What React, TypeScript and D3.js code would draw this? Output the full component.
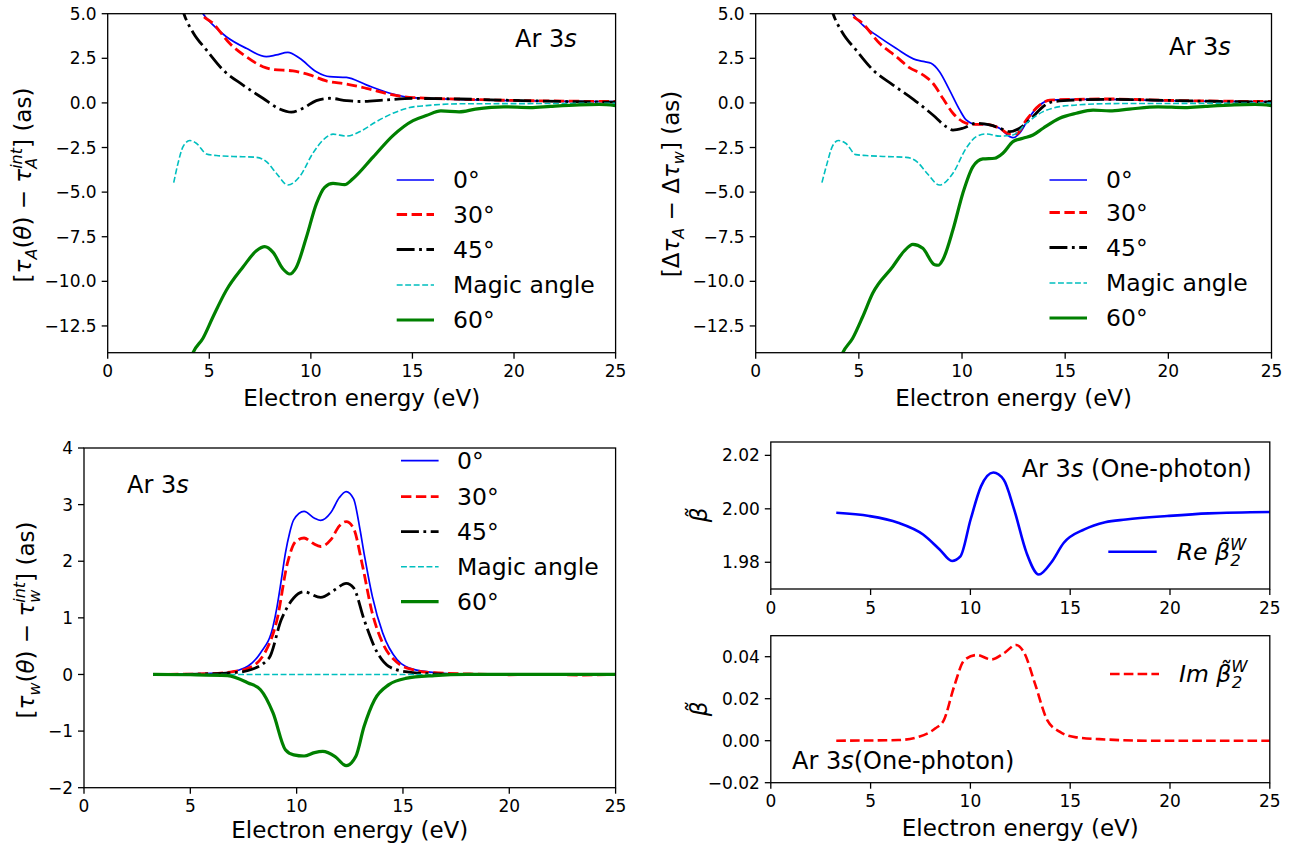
import React from "react";
import * as d3 from "d3";

type Pt = [number, number];

// ---------- tick values ----------
const xTicks = [0, 5, 10, 15, 20, 25];
const tauATicks = [5.0, 2.5, 0.0, -2.5, -5.0, -7.5, -10.0, -12.5];
const tauWTicks = [4, 3, 2, 1, 0, -1, -2];
const reTicks = [1.98, 2.0, 2.02];
const imTicks = [-0.02, 0.0, 0.02, 0.04];
const angleLabels = ["0°", "30°", "45°", "Magic angle", "60°"];

// ---------- panel (a): tau_A(theta) - tau_A^int ----------
const tauA0: Pt[] = [[3.25, 10], [4.0, 6.6], [4.69, 5.0], [5.18, 4.37], [5.84, 3.71], [6.82, 3.06], [7.81, 2.59], [8.3, 2.69], [8.87, 2.83], [9.45, 2.5], [10.27, 1.75], [10.93, 1.47], [11.75, 1.43], [12.73, 1.01], [14.04, 0.5], [14.86, 0.31], [15.68, 0.26], [17.3, 0.2], [20, 0.12], [22.5, 0.09], [25, 0.07]];
const tauA30: Pt[] = [[3.25, 9.5], [4.0, 6.5], [4.61, 5.0], [5.18, 4.46], [6.0, 3.34], [6.82, 2.59], [7.64, 2.03], [8.13, 1.88], [9.12, 1.79], [9.94, 1.57], [10.76, 1.23], [11.75, 1.06], [12.73, 0.82], [14.04, 0.45], [15.03, 0.3], [17.3, 0.21], [20, 0.14], [22.5, 0.1], [25, 0.08]];
const tauA45: Pt[] = [[3.25, 7.2], [3.75, 5.0], [4.2, 3.95], [4.86, 2.97], [5.68, 1.85], [6.66, 1.0], [7.64, 0.26], [8.46, -0.34], [9.04, -0.52], [9.61, -0.3], [10.27, 0.13], [10.93, 0.26], [11.75, 0.13], [12.4, 0.08], [13.7, 0.17], [15.03, 0.25], [17.3, 0.22], [20, 0.14], [22.5, 0.08], [25, 0.04]];
const tauAMagic: Pt[] = [[3.25, -4.47], [3.46, -3.39], [3.71, -2.45], [4.04, -2.11], [4.36, -2.26], [4.86, -2.86], [5.35, -2.95], [6.17, -3.0], [7.32, -3.05], [7.81, -3.29], [8.3, -3.94], [8.87, -4.6], [9.45, -4.13], [10.1, -2.82], [10.6, -2.08], [11.09, -1.75], [11.75, -1.86], [12.4, -1.62], [13.22, -1.05], [14.04, -0.58], [14.86, -0.26], [15.68, -0.15], [17.3, -0.05], [20, -0.04], [25, -0.02]];
const tauA60: Pt[] = [[3.25, -17.5], [3.9, -15], [4.2, -14.0], [4.69, -13.19], [5.18, -12.0], [5.84, -10.5], [6.66, -9.2], [7.32, -8.29], [7.73, -8.06], [8.14, -8.38], [8.63, -9.31], [8.96, -9.59], [9.28, -9.22], [9.78, -7.53], [10.27, -5.66], [10.68, -4.73], [11.09, -4.51], [11.66, -4.58], [12.07, -4.25], [13.06, -3.04], [14.04, -1.83], [15.03, -0.99], [15.68, -0.71], [16.4, -0.45], [17.3, -0.5], [18.1, -0.35], [19.5, -0.22], [20.8, -0.26], [21.8, -0.19], [23.2, -0.11], [24.2, -0.09], [25, -0.15]];

// ---------- panel (b): delta tau_A - delta tau_w ----------
const dTau0: Pt[] = [[3.25, 10], [4.0, 6.6], [4.7, 5.0], [5.18, 4.37], [5.83, 3.81], [6.8, 3.06], [7.78, 2.41], [8.18, 2.31], [8.5, 2.22], [8.91, 1.75], [9.39, 0.73], [9.88, -0.38], [10.2, -0.95], [10.69, -1.2], [11.17, -1.2], [11.82, -1.42], [12.31, -1.89], [12.47, -1.95], [12.79, -1.7], [13.28, -0.77], [13.76, -0.13], [14.25, 0.16], [15.54, 0.2], [17.16, 0.2], [20, 0.12], [22.5, 0.09], [25, 0.06]];
const dTau30: Pt[] = [[3.25, 9.5], [4.0, 6.5], [4.62, 5.0], [5.18, 4.46], [6.0, 3.34], [6.82, 2.59], [7.45, 1.98], [8.0, 1.65], [8.26, 1.45], [8.59, 1.1], [9.07, 0.26], [9.56, -0.58], [10.04, -1.05], [10.53, -1.2], [11.17, -1.2], [11.82, -1.42], [12.31, -1.74], [12.63, -1.74], [13.12, -0.95], [13.76, -0.13], [14.25, 0.16], [15.54, 0.2], [17.16, 0.22], [20, 0.14], [22.5, 0.1], [25, 0.08]];
const dTau45: Pt[] = [[3.25, 7.2], [3.75, 5.0], [4.2, 3.95], [4.86, 2.97], [5.68, 1.85], [6.66, 1.0], [7.64, 0.2], [8.59, -0.68], [9.23, -1.33], [9.56, -1.52], [10.04, -1.42], [10.69, -1.14], [11.34, -1.23], [11.98, -1.48], [12.31, -1.61], [12.79, -1.42], [13.44, -0.77], [13.93, -0.21], [14.41, 0.07], [15.54, 0.16], [17.16, 0.2], [20, 0.14], [22.5, 0.08], [25, 0.05]];
const dTauMagic: Pt[] = [[3.21, -4.47], [3.46, -3.39], [3.71, -2.45], [4.0, -2.11], [4.36, -2.26], [4.86, -2.9], [5.35, -2.95], [6.17, -3.0], [7.29, -3.05], [7.81, -3.29], [8.3, -3.94], [8.91, -4.6], [9.56, -3.94], [10.2, -2.54], [10.69, -1.89], [11.17, -1.74], [11.82, -1.86], [12.47, -1.8], [13.12, -1.14], [13.93, -0.49], [14.73, -0.21], [15.54, -0.12], [17.16, -0.04], [20, -0.03], [25, -0.01]];
const dTau60: Pt[] = [[3.25, -17.5], [3.9, -15], [4.22, -14.0], [4.7, -13.19], [5.18, -12.0], [5.67, -10.67], [6.64, -9.18], [7.2, -8.3], [7.62, -7.93], [8.1, -8.15], [8.67, -9.07], [8.85, -9.1], [9.07, -8.79], [9.56, -7.11], [10.04, -5.06], [10.53, -3.57], [11.01, -3.14], [11.58, -3.1], [11.98, -2.82], [12.47, -2.17], [12.95, -1.98], [13.44, -1.8], [13.93, -1.42], [14.73, -0.86], [15.54, -0.58], [16.35, -0.4], [17.16, -0.45], [18.1, -0.35], [19.5, -0.22], [20.8, -0.26], [21.8, -0.19], [23.2, -0.11], [24.2, -0.09], [25, -0.15]];

// ---------- panel (c): tau_w(theta) - tau_w^int ----------
const tauW0: Pt[] = [[3.25, 0], [5, 0.01], [6, 0.02], [6.75, 0.035], [7.3, 0.08], [7.72, 0.15], [8.3, 0.38], [8.89, 0.85], [9.08, 1.2], [9.28, 1.67], [9.47, 2.14], [9.67, 2.5], [9.86, 2.73], [10.35, 2.88], [10.84, 2.76], [11.13, 2.72], [11.61, 2.86], [12.0, 3.12], [12.33, 3.23], [12.68, 3.1], [12.98, 2.56], [13.17, 2.14], [13.37, 1.73], [13.56, 1.38], [14.05, 0.73], [14.73, 0.26], [15.5, 0.09], [16.48, 0.035], [17.45, 0.01], [20, 0], [25, 0]];
const tauW30: Pt[] = [[3.25, 0], [6, 0.015], [7, 0.05], [7.72, 0.11], [8.5, 0.38], [9.08, 0.97], [9.57, 1.97], [9.96, 2.35], [10.35, 2.41], [10.75, 2.32], [11.13, 2.26], [11.61, 2.38], [12.0, 2.62], [12.33, 2.7], [12.68, 2.58], [13.07, 1.97], [13.56, 1.08], [14.05, 0.55], [14.73, 0.21], [15.5, 0.08], [16.48, 0.03], [18, 0.01], [20, -0.005], [22, 0], [23.5, -0.01], [25, 0]];
const tauW45: Pt[] = [[3.25, 0], [6, 0.01], [7, 0.03], [7.72, 0.07], [8.7, 0.29], [9.28, 0.97], [9.86, 1.35], [10.35, 1.46], [11.13, 1.36], [11.81, 1.5], [12.33, 1.61], [12.68, 1.53], [13.17, 0.97], [13.76, 0.41], [14.34, 0.14], [15.12, 0.05], [16.48, 0.01], [18, 0], [25, 0]];
const tauWMagic: Pt[] = [[3.25, 0], [25, 0]];
const tauW60: Pt[] = [[3.25, 0], [5, -0.005], [6.75, -0.02], [7.72, -0.15], [8.3, -0.27], [8.89, -0.68], [9.47, -1.33], [9.86, -1.42], [10.35, -1.44], [10.84, -1.38], [11.23, -1.36], [11.81, -1.45], [12.33, -1.61], [12.78, -1.45], [13.17, -0.92], [13.66, -0.45], [14.34, -0.18], [15.12, -0.07], [16.48, -0.02], [18, 0], [25, 0]];

// ---------- panel (d): one-photon beta2 ----------
const reBeta: Pt[] = [[3.28, 1.9985], [4.93, 1.9973], [6.38, 1.9948], [7.63, 1.9904], [8.46, 1.9848], [9.08, 1.9805], [9.5, 1.9822], [10.01, 1.996], [10.53, 2.0084], [11.15, 2.0136], [11.67, 2.0109], [12.19, 1.9998], [12.81, 1.9836], [13.43, 1.9754], [14.05, 1.9799], [14.68, 1.9873], [15.71, 1.9923], [16.75, 1.995], [17.79, 1.996], [19.86, 1.9973], [21.93, 1.9983], [25, 1.9988]];
const imBeta: Pt[] = [[3.28, 0], [6.38, 0.0003], [7.42, 0.0019], [8.25, 0.0059], [8.67, 0.0098], [9.18, 0.0257], [9.7, 0.0384], [10.32, 0.0408], [11.05, 0.0387], [11.67, 0.0416], [12.29, 0.0456], [12.71, 0.0416], [13.23, 0.0273], [13.85, 0.0098], [14.47, 0.0043], [15.3, 0.0016], [16.75, 0.0006], [18.82, 0], [25, 0]];

// ---------- styling ----------
type Style = { color: string; width: number; dash?: string };
const styles: Style[] = [
  { color: "#0000ff", width: 1.7 },
  { color: "#ff0000", width: 2.8, dash: "10.4,4.5" },
  { color: "#000000", width: 2.8, dash: "17.9,4.5,2.8,4.5" },
  { color: "#00bfbf", width: 1.6, dash: "5.9,2.6" },
  { color: "#008000", width: 3.2 },
];
const FONT = "DejaVu Sans";

type Box = { l: number; r: number; t: number; b: number };

function Axes(props: {
  id: string;
  box: Box;
  yDomain: [number, number];
  yTicks: number[];
  yFmt: (v: number) => string;
  series: { data: Pt[]; style: Style }[];
  xLabelOffset?: number;
}) {
  const { id, box, yDomain, yTicks, yFmt, series, xLabelOffset } = props;
  const x = d3.scaleLinear().domain([0, 25]).range([box.l, box.r]);
  const y = d3.scaleLinear().domain(yDomain).range([box.b, box.t]);
  const line = d3
    .line<Pt>()
    .x((d) => x(d[0]))
    .y((d) => y(d[1]))
    .curve(d3.curveMonotoneX);
  return (
    <g>
      <defs>
        <clipPath id={id}>
          <rect x={box.l} y={box.t} width={box.r - box.l} height={box.b - box.t} />
        </clipPath>
      </defs>
      <g clipPath={`url(#${id})`}>
        {series.map((s, i) => (
          <path
            key={i}
            d={line(s.data) || ""}
            fill="none"
            stroke={s.style.color}
            strokeWidth={s.style.width}
            strokeDasharray={s.style.dash}
            strokeLinejoin="round"
          />
        ))}
      </g>
      <rect x={box.l} y={box.t} width={box.r - box.l} height={box.b - box.t} fill="none" stroke="#000" strokeWidth={1.3} />
      {xTicks.map((t) => (
        <g key={"x" + t}>
          <line x1={x(t)} x2={x(t)} y1={box.b} y2={box.b + 6} stroke="#000" strokeWidth={1.3} />
          <text x={x(t)} y={box.b + 24.5} textAnchor="middle" fontSize={17} fontFamily={FONT}>
            {t}
          </text>
        </g>
      ))}
      {yTicks.map((t) => (
        <g key={"y" + t}>
          <line x1={box.l - 6} x2={box.l} y1={y(t)} y2={y(t)} stroke="#000" strokeWidth={1.3} />
          <text x={box.l - 11} y={y(t)} dy="0.36em" textAnchor="end" fontSize={17} fontFamily={FONT}>
            {yFmt(t)}
          </text>
        </g>
      ))}
      {xLabelOffset !== undefined && (
        <text x={(box.l + box.r) / 2} y={box.b + xLabelOffset} textAnchor="middle" fontSize={23} fontFamily={FONT}>
          Electron energy (eV)
        </text>
      )}
    </g>
  );
}

function AngleLegend(props: { x0: number; x1: number; tx: number; rows: number[] }) {
  const { x0, x1, tx, rows } = props;
  return (
    <g>
      {angleLabels.map((lab, i) => (
        <g key={lab}>
          <line
            x1={x0}
            x2={x1}
            y1={rows[i]}
            y2={rows[i]}
            stroke={styles[i].color}
            strokeWidth={styles[i].width}
            strokeDasharray={styles[i].dash}
          />
          <text x={tx} y={rows[i]} dy="0.35em" fontSize={23.5} fontFamily={FONT}>
            {lab}
          </text>
        </g>
      ))}
    </g>
  );
}

function Title(props: { x: number; y: number; suffix?: string }) {
  return (
    <text x={props.x} y={props.y} fontSize={24} fontFamily={FONT}>
      {"Ar 3"}
      <tspan fontStyle="italic">s</tspan>
      {props.suffix ? <tspan>{props.suffix}</tspan> : null}
    </text>
  );
}

export default function App() {
  const f1 = d3.format(".1f");
  const f0 = d3.format("d");
  const f2 = d3.format(".2f");
  const tl: Box = { l: 107.7, r: 615.6, t: 13.7, b: 352.7 };
  const tr: Box = { l: 755.7, r: 1271.5, t: 13.7, b: 352.7 };
  const bl: Box = { l: 84, r: 615.6, t: 448, b: 787.7 };
  const br1: Box = { l: 770.8, r: 1269.8, t: 442, b: 589 };
  const br2: Box = { l: 770.8, r: 1269.8, t: 635.7, b: 782.7 };
  const mk = (arr: Pt[][]) => arr.map((d, i) => ({ data: d, style: styles[i] }));

  return (
    <svg
      width={1298}
      height={844}
      style={{ position: "absolute", left: 0, top: 0, background: "#fff" }}
      fontFamily={FONT}
    >
      <rect width={1298} height={844} fill="#fff" />

      {/* (a) */}
      <Axes id="cTL" box={tl} yDomain={[-14, 5]} yTicks={tauATicks} yFmt={f1}
        series={mk([tauA0, tauA30, tauA45, tauAMagic, tauA60])} xLabelOffset={53} />
      <Title x={515} y={46.7} />
      <AngleLegend x0={396.7} x1={434} tx={453} rows={[180, 214.5, 249.5, 285, 320]} />
      <text transform="translate(30.5,185) rotate(-90)" textAnchor="middle" fontSize={23}>
        {"["}
        <tspan fontStyle="italic">τ</tspan>
        <tspan fontStyle="italic" fontSize={16} dy={6}>A</tspan>
        <tspan dy={-6}>{"("}</tspan>
        <tspan fontStyle="italic">θ</tspan>
        <tspan>{") − "}</tspan>
        <tspan fontStyle="italic">τ</tspan>
        <tspan fontStyle="italic" fontSize={16} dy={-9}>int</tspan>
        <tspan fontStyle="italic" fontSize={16} dx={-20.9} dy={15}>A</tspan>
        <tspan dx={10} dy={-6}>{"] (as)"}</tspan>
      </text>

      {/* (b) */}
      <Axes id="cTR" box={tr} yDomain={[-14, 5]} yTicks={tauATicks} yFmt={f1}
        series={mk([dTau0, dTau30, dTau45, dTauMagic, dTau60])} xLabelOffset={53} />
      <Title x={1169} y={55} />
      <AngleLegend x0={1049.5} x1={1087} tx={1106} rows={[180, 212.5, 247.5, 283, 318]} />
      <text transform="translate(679,184) rotate(-90)" textAnchor="middle" fontSize={23}>
        {"[Δ"}
        <tspan fontStyle="italic">τ</tspan>
        <tspan fontStyle="italic" fontSize={16} dy={5}>A</tspan>
        <tspan dy={-5}>{" − Δ"}</tspan>
        <tspan fontStyle="italic">τ</tspan>
        <tspan fontStyle="italic" fontSize={16} dy={5}>w</tspan>
        <tspan dy={-5}>{"] (as)"}</tspan>
      </text>

      {/* (c) */}
      <Axes id="cBL" box={bl} yDomain={[-2, 4]} yTicks={tauWTicks} yFmt={f0}
        series={mk([tauW0, tauW30, tauW45, tauWMagic, tauW60])} xLabelOffset={50.5} />
      <Title x={127} y={492.7} />
      <AngleLegend x0={401} x1={438.6} tx={457} rows={[460.7, 496.7, 531.7, 566.7, 601.7]} />
      <text transform="translate(34,620) rotate(-90)" textAnchor="middle" fontSize={23}>
        {"["}
        <tspan fontStyle="italic">τ</tspan>
        <tspan fontStyle="italic" fontSize={16} dy={6}>w</tspan>
        <tspan dy={-6}>{"("}</tspan>
        <tspan fontStyle="italic">θ</tspan>
        <tspan>{") − "}</tspan>
        <tspan fontStyle="italic">τ</tspan>
        <tspan fontStyle="italic" fontSize={16} dy={-9}>int</tspan>
        <tspan fontStyle="italic" fontSize={16} dx={-20.9} dy={15}>w</tspan>
        <tspan dx={7.8} dy={-6}>{"] (as)"}</tspan>
      </text>

      {/* (d) upper */}
      <Axes id="cBR1" box={br1} yDomain={[1.97, 2.025]} yTicks={reTicks} yFmt={f2}
        series={[{ data: reBeta, style: { color: "#0000ff", width: 2.6 } }]} />
      <Title x={1021.7} y={476.7} suffix=" (One-photon)" />
      <line x1={1108.3} x2={1156.7} y1={551.7} y2={551.7} stroke="#0000ff" strokeWidth={2.6} />
      <text x={1176.7} y={551.7} dy="0.35em" fontSize={23.5} fontStyle="italic">
        {"Re β\u0303"}
        <tspan fontSize={16.5} dy={-10}>W</tspan>
        <tspan fontSize={16.5} dx={-16} dy={16}>2</tspan>
      </text>
      <text transform="translate(707,515) rotate(-90)" textAnchor="middle" fontSize={23} fontStyle="italic">
        {"β\u0303"}
      </text>

      {/* (d) lower */}
      <Axes id="cBR2" box={br2} yDomain={[-0.02, 0.05]} yTicks={imTicks} yFmt={f2}
        series={[{ data: imBeta, style: { color: "#ff0000", width: 2.6, dash: "9.6,4.2" } }]} xLabelOffset={53} />
      <Title x={792} y={769} suffix="(One-photon)" />
      <line x1={1110} x2={1159} y1={674} y2={674} stroke="#ff0000" strokeWidth={2.6} strokeDasharray="9.6,4.2" />
      <text x={1179} y={674} dy="0.35em" fontSize={23.5} fontStyle="italic">
        {"Im β\u0303"}
        <tspan fontSize={16.5} dy={-10}>W</tspan>
        <tspan fontSize={16.5} dx={-16} dy={16}>2</tspan>
      </text>
      <text transform="translate(707,709) rotate(-90)" textAnchor="middle" fontSize={23} fontStyle="italic">
        {"β\u0303"}
      </text>
    </svg>
  );
}
